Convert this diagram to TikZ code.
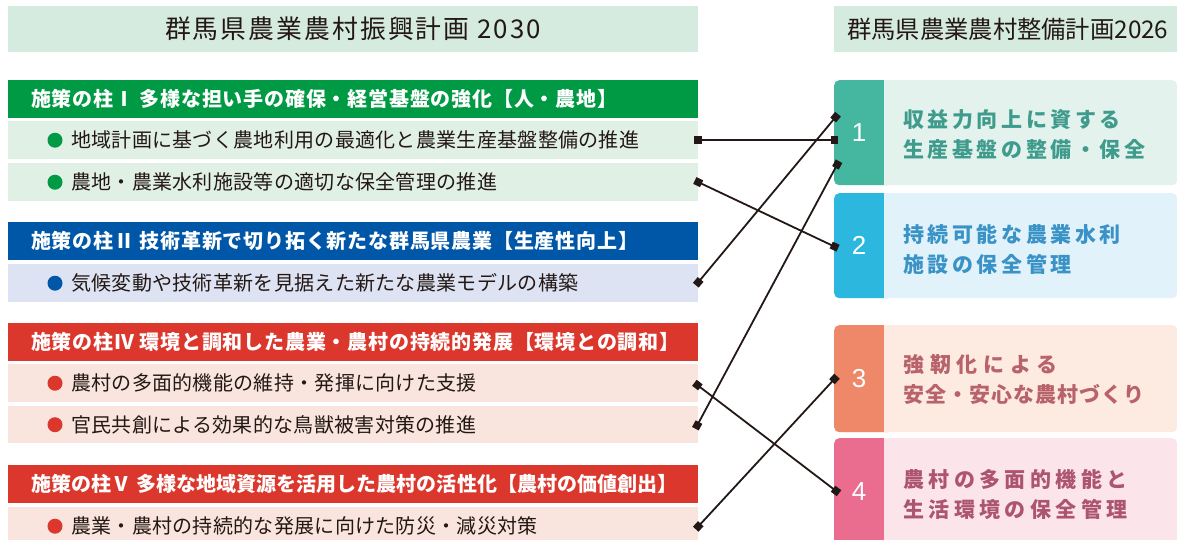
\documentclass[tikz,border=0pt]{standalone}
\usepackage{fontspec}
\setmainfont{Noto Sans CJK JP}
\newfontfamily\jptitle[LetterSpace=8]{Noto Sans CJK JP}
\newfontfamily\jphead[LetterSpace=4]{Noto Sans CJK JP}
\newfontfamily\jpheadV[LetterSpace=0.3]{Noto Sans CJK JP}
\newfontfamily\jpitem[LetterSpace=1.5]{Noto Sans CJK JP}
\newfontfamily\jpspA[LetterSpace=17]{Noto Sans CJK JP}
\newfontfamily\jpspB[LetterSpace=28]{Noto Sans CJK JP}
\newfontfamily\jpspC[LetterSpace=5]{Noto Sans CJK JP}
\newfontfamily\jpspD[LetterSpace=21]{Noto Sans CJK JP}
\newfontfamily\numfont{Liberation Sans}
\usetikzlibrary{arrows.meta}
\definecolor{hdrbg}{HTML}{D6EBE0}
\definecolor{ink}{HTML}{231815}
\definecolor{pgreen}{HTML}{009A44}
\definecolor{gitem}{HTML}{E1F0E5}
\definecolor{pblue}{HTML}{0057A7}
\definecolor{bitem}{HTML}{DEE3F3}
\definecolor{pred}{HTML}{DC372C}
\definecolor{ritem}{HTML}{F9E5DD}
\definecolor{sA}{HTML}{45B6A0}
\definecolor{bA}{HTML}{E4F2ED}
\definecolor{tA}{HTML}{3F9C8D}
\definecolor{sB}{HTML}{2CB8DE}
\definecolor{bB}{HTML}{E2F2FA}
\definecolor{tB}{HTML}{3A93C7}
\definecolor{sC}{HTML}{EF8868}
\definecolor{bC}{HTML}{FDEAE1}
\definecolor{tC}{HTML}{B8636B}
\definecolor{sD}{HTML}{EA6C8F}
\definecolor{bD}{HTML}{FBE5EA}
\definecolor{tD}{HTML}{AD5570}
\begin{document}
\begin{tikzpicture}[x=1pt,y=-1pt,
  hdr/.style={fill=hdrbg, inner sep=0pt, text=ink},
  lbox/.style={anchor=north west, minimum width=690pt, inner sep=0pt},
  ptext/.style={anchor=west, inner sep=0pt, text=white, font=\jphead\bfseries\fontsize{20}{24}\selectfont},
  itext/.style={anchor=west, inner sep=0pt, text=ink, font=\jpitem\fontsize{20}{24}\selectfont},
  rbox/.style={anchor=north west, minimum width=343pt, inner sep=0pt, rounded corners=5pt},
  rstrip/.style={anchor=north west, minimum width=58pt, inner sep=0pt, rounded corners=5pt},
  rnum/.style={inner sep=0pt, text=white, font=\numfont\fontsize{26}{30}\selectfont},
  rtext/.style={anchor=west, inner sep=0pt, align=left, font=\bfseries\fontsize{21}{30}\selectfont},
  conn/.style={draw=ink, line width=1.8pt, {Square[length=7.5pt,width=7.5pt]}-{Square[length=7.5pt,width=7.5pt]}}
]
\useasboundingbox (0,0) rectangle (1177,539);
% headers
\node[hdr, minimum width=690pt, minimum height=46pt] (h1) at (353,29) {\jptitle\fontsize{25.8}{28}\selectfont 群馬県農業農村振興計画 2030};
\node[hdr, anchor=north west, minimum width=345pt, minimum height=46pt] (h2) at (834,6) {};
\node[anchor=west, inner sep=0pt, text=ink, font=\fontsize{24.3}{28}\selectfont] (h2t) at (847,29) {群馬県農業農村整備計画2026};
% pillar I
\node[lbox, fill=pgreen, minimum height=38pt] (p1) at (8,80) {};
\node[ptext] (p1t) at ([xshift=23pt]p1.west) {施策の柱Ⅰ 多様な担い手の確保・経営基盤の強化【人・農地】};
\node[lbox, fill=gitem, minimum height=38pt] (i11) at (8,121) {};
\fill[pgreen] ([xshift=47pt]i11.west) circle (7.5pt);
\node[itext] (i11t) at ([xshift=63pt]i11.west) {地域計画に基づく農地利用の最適化と農業生産基盤整備の推進};
\node[lbox, fill=gitem, minimum height=38pt] (i12) at (8,163) {};
\fill[pgreen] ([xshift=47pt]i12.west) circle (7.5pt);
\node[itext] (i12t) at ([xshift=63pt]i12.west) {農地・農業水利施設等の適切な保全管理の推進};
% pillar II
\node[lbox, fill=pblue, minimum height=38pt] (p2) at (8,222) {};
\node[ptext] (p2t) at ([xshift=23pt]p2.west) {施策の柱Ⅱ 技術革新で切り拓く新たな群馬県農業【生産性向上】};
\node[lbox, fill=bitem, minimum height=38pt] (i21) at (8,264) {};
\fill[pblue] ([xshift=47pt]i21.west) circle (7.5pt);
\node[itext] (i21t) at ([xshift=63pt]i21.west) {気候変動や技術革新を見据えた新たな農業モデルの構築};
% pillar IV
\node[lbox, fill=pred, minimum height=38pt] (p4) at (8,323) {};
\node[ptext] (p4t) at ([xshift=23pt]p4.west) {施策の柱Ⅳ 環境と調和した農業・農村の持続的発展【環境との調和】};
\node[lbox, fill=ritem, minimum height=38pt] (i41) at (8,364) {};
\fill[pred] ([xshift=47pt]i41.west) circle (7.5pt);
\node[itext] (i41t) at ([xshift=63pt]i41.west) {農村の多面的機能の維持・発揮に向けた支援};
\node[lbox, fill=ritem, minimum height=37pt] (i42) at (8,406) {};
\fill[pred] ([xshift=47pt]i42.west) circle (7.5pt);
\node[itext] (i42t) at ([xshift=63pt]i42.west) {官民共創による効果的な鳥獣被害対策の推進};
% pillar V
\node[lbox, fill=pred, minimum height=38pt] (p5) at (8,465) {};
\node[ptext, font=\jpheadV\bfseries\fontsize{20}{24}\selectfont] (p5t) at ([xshift=23pt]p5.west) {施策の柱Ⅴ 多様な地域資源を活用した農村の活性化【農村の価値創出】};
\node[lbox, fill=ritem, minimum height=38pt] (i51) at (8,507) {};
\fill[pred] ([xshift=47pt]i51.west) circle (7.5pt);
\node[itext] (i51t) at ([xshift=63pt]i51.west) {農業・農村の持続的な発展に向けた防災・減災対策};
% right boxes
\node[rbox, fill=bA, minimum height=105pt] (r1) at (834,80) {};
\node[rstrip, fill=sA, minimum height=105pt] (s1) at (834,80) {};
\fill[bA] (884,80) rectangle (900,185);
\node[rnum] (n1) at (859,132.5) {1};
\node[rtext, text=tA] (r1t) at (903,135) {\jpspA 収益力向上に資する\\\jpspA 生産基盤の整備・保全};
\node[rbox, fill=bB, minimum height=105pt] (r2) at (834,193) {};
\node[rstrip, fill=sB, minimum height=105pt] (s2) at (834,193) {};
\fill[bB] (884,193) rectangle (900,298);
\node[rnum] (n2) at (859,245.5) {2};
\node[rtext, text=tB] (r2t) at (903,249) {\jpspA 持続可能な農業水利\\\jpspA 施設の保全管理};
\node[rbox, fill=bC, minimum height=107pt] (r3) at (834,325) {};
\node[rstrip, fill=sC, minimum height=107pt] (s3) at (834,325) {};
\fill[bC] (884,325) rectangle (900,432);
\node[rnum] (n3) at (859,378.5) {3};
\node[rtext, text=tC] (r3t) at (903,380) {\jpspB 強靭化による\\\jpspC 安全・安心な農村づくり};
\node[rbox, fill=bD, minimum height=108pt] (r4) at (834,438) {};
\node[rstrip, fill=sD, minimum height=108pt] (s4) at (834,438) {};
\fill[bD] (884,438) rectangle (900,546);
\node[rnum] (n4) at (859,492) {4};
\node[rtext, text=tD] (r4t) at (903,494) {\jpspD 農村の多面的機能と\\\jpspD 生活環境の保全管理};
% connectors
\draw[conn] ([xshift=-4pt]i11.east) -- ([xshift=4pt,yshift=-7.5pt]r1.west);
\draw[conn] ([xshift=-3.6pt,yshift=1.7pt]i12.east) -- ([xshift=4pt,yshift=-2.5pt]r2.west);
\draw[conn] ([xshift=-2.6pt,yshift=-2pt]i21.east) -- ([xshift=4pt,yshift=18.5pt]r1.west);
\draw[conn] ([xshift=-4pt,yshift=0.4pt]i41.east) -- ([xshift=5pt,yshift=-1pt]r4.west);
\draw[conn] ([xshift=-3pt,yshift=-4pt]i42.east) -- ([xshift=5pt,yshift=-28.5pt]r1.west);
\draw[conn] ([xshift=-2.7pt,yshift=-3pt]i51.east) -- ([xshift=3pt,yshift=2.5pt]r3.west);
\end{tikzpicture}
\end{document}
